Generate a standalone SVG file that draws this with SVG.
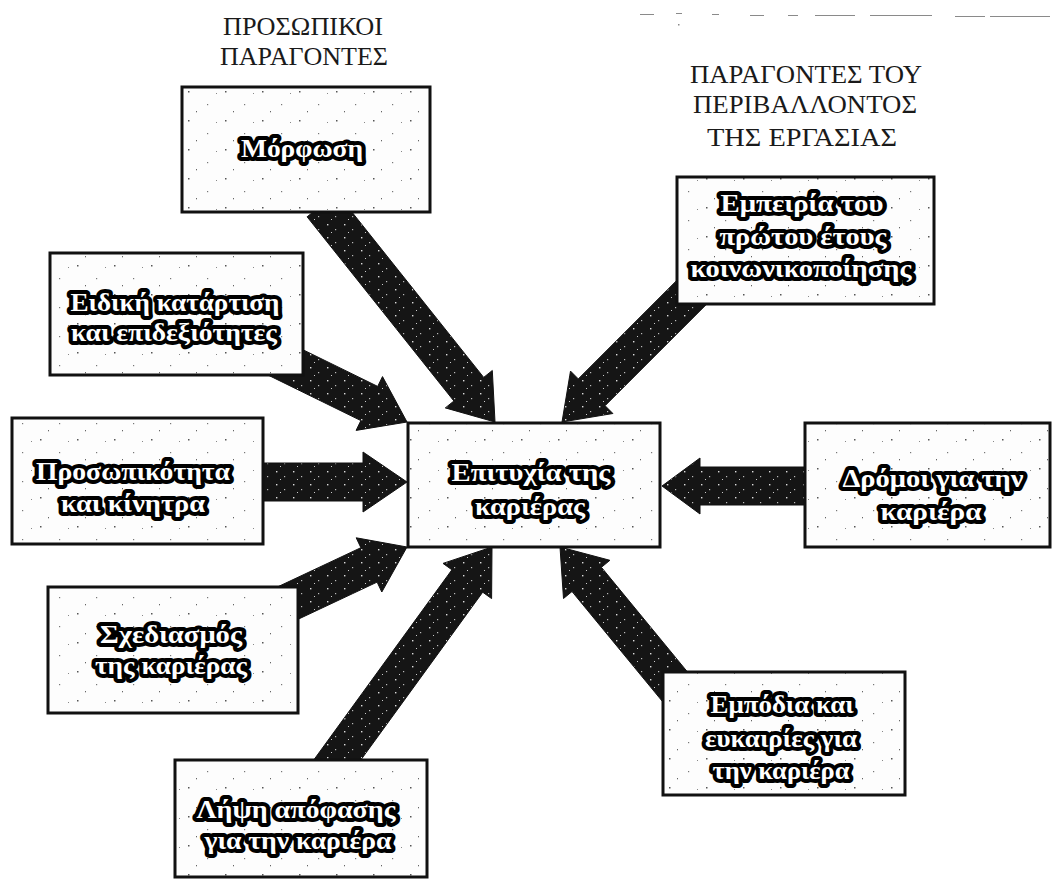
<svg xmlns="http://www.w3.org/2000/svg" width="1052" height="881" viewBox="0 0 1052 881">
<style>
.box{stroke:#111;stroke-width:3;fill:url(#spkL)}
.arr{fill:url(#spkD);stroke:#111;stroke-width:1}
.t{font-family:"Liberation Serif","DejaVu Serif",serif;font-weight:bold;font-size:26px;fill:#fff;stroke:#000;stroke-width:8;stroke-linejoin:round;paint-order:stroke;text-anchor:middle}
.h{font-family:"Liberation Serif","DejaVu Serif",serif;font-size:25px;fill:#1a1a1a;text-anchor:middle}
.scan{fill:#8a8a8a}
</style>
<defs>
<pattern id="spkL" patternUnits="userSpaceOnUse" width="37" height="29">
<rect width="37" height="29" fill="#fdfdfd"/>
<rect x="3" y="4" width="1.5" height="1.5" fill="#555"/>
<rect x="22" y="17" width="1.2" height="1.2" fill="#777"/>
<rect x="31" y="6" width="1" height="1" fill="#888"/>
<rect x="11" y="24" width="1" height="1.3" fill="#666"/>
</pattern>
<pattern id="spkD" patternUnits="userSpaceOnUse" width="17" height="13">
<rect width="17" height="13" fill="#151515"/>
<rect x="4" y="3" width="1.4" height="1.4" fill="#ddd"/>
<rect x="12" y="8" width="1.2" height="1.2" fill="#bbb"/>
<rect x="8" y="11" width="1" height="1" fill="#ccc"/>
</pattern>
</defs>
<rect width="1052" height="881" fill="#fff"/>

<g id="scan-marks">
<rect class="scan" x="640" y="14" width="14" height="1"/>
<rect class="scan" x="676" y="13" width="6" height="1"/>
<rect class="scan" x="712" y="14" width="7" height="1"/>
<rect class="scan" x="750" y="15" width="14" height="1"/>
<rect class="scan" x="788" y="15" width="10" height="1"/>
<rect class="scan" x="815" y="15" width="40" height="1"/>
<rect class="scan" x="870" y="15" width="62" height="1"/>
<rect class="scan" x="955" y="16" width="30" height="1"/>
<rect class="scan" x="990" y="16" width="60" height="1"/>
<rect class="scan" x="678" y="24" width="1.5" height="1.5"/>
</g>

<g id="headers">
<text class="h" x="303" y="35" textLength="160" lengthAdjust="spacingAndGlyphs">ΠΡΟΣΩΠΙΚΟΙ</text>
<text class="h" x="304" y="65" textLength="168" lengthAdjust="spacingAndGlyphs">ΠΑΡΑΓΟΝΤΕΣ</text>
<text class="h" x="806" y="83" textLength="232" lengthAdjust="spacingAndGlyphs">ΠΑΡΑΓΟΝΤΕΣ ΤΟΥ</text>
<text class="h" x="805" y="113" textLength="224" lengthAdjust="spacingAndGlyphs">ΠΕΡΙΒΑΛΛΟΝΤΟΣ</text>
<text class="h" x="802" y="146" textLength="190" lengthAdjust="spacingAndGlyphs">ΤΗΣ ΕΡΓΑΣΙΑΣ</text>
</g>

<g id="connectors">
<polygon class="arr" points="307.1,216.8 453.9,401.0 445.3,407.9 495,422 492.3,370.5 483.7,377.4 336.9,193.2"/>
<polygon class="arr" points="706.6,250.6 578.3,378.9 570.5,371.1 562,422 612.9,413.5 605.1,405.7 733.4,277.4"/>
<polygon class="arr" points="241.6,362.1 360.9,420.6 356.1,430.4 407,422 382.5,376.6 377.7,386.4 258.4,327.9"/>
<polygon class="arr" points="250,463 363,463 363,452 407,482 363,512 363,501 250,501"/>
<polygon class="arr" points="279.1,628.2 377.1,582.1 381.8,592.0 407,547 356.2,537.8 360.9,547.7 262.9,593.8"/>
<polygon class="arr" points="336.6,793.3 482.7,592.2 491.6,598.6 492,547 443.0,563.4 451.9,569.8 305.8,770.9"/>
<polygon class="arr" points="704.7,692.9 601.4,567.3 609.9,560.3 560,547 563.5,598.5 572.0,591.5 675.3,717.1"/>
<polygon class="arr" points="820,467 700,467 700,458 662,486 700,514 700,505 820,505"/>
</g>

<g id="n-morfosi">
<rect class="box" x="182" y="87" width="248" height="125"/>
<text class="t" x="302" y="157" textLength="122" lengthAdjust="spacingAndGlyphs">Μόρφωση</text>
</g>

<g id="n-empeiria">
<rect class="box" x="677" y="177" width="257" height="127"/>
<text class="t" x="802" y="212" textLength="163" lengthAdjust="spacingAndGlyphs">Εμπειρία του</text>
<text class="t" x="803" y="245" textLength="167" lengthAdjust="spacingAndGlyphs">πρώτου έτους</text>
<text class="t" x="801" y="277" textLength="221" lengthAdjust="spacingAndGlyphs">κοινωνικοποίησης</text>
</g>

<g id="n-eidiki">
<rect class="box" x="50" y="253" width="253" height="122"/>
<text class="t" x="175" y="311" textLength="209" lengthAdjust="spacingAndGlyphs">Ειδική κατάρτιση</text>
<text class="t" x="174" y="341" textLength="206" lengthAdjust="spacingAndGlyphs">και επιδεξιότητες</text>
</g>

<g id="n-prosopikotita">
<rect class="box" x="12" y="418" width="251" height="126"/>
<text class="t" x="133" y="480" textLength="194" lengthAdjust="spacingAndGlyphs">Προσωπικότητα</text>
<text class="t" x="133" y="512" textLength="144" lengthAdjust="spacingAndGlyphs">και κίνητρα</text>
</g>

<g id="n-epitychia">
<rect class="box" x="408" y="423" width="252" height="124"/>
<text class="t" x="531" y="481" textLength="159" lengthAdjust="spacingAndGlyphs">Επιτυχία της</text>
<text class="t" x="530" y="515" textLength="110" lengthAdjust="spacingAndGlyphs">καριέρας</text>
</g>

<g id="n-dromoi">
<rect class="box" x="805" y="423" width="245" height="124"/>
<text class="t" x="933" y="487" textLength="181" lengthAdjust="spacingAndGlyphs">Δρόμοι για την</text>
<text class="t" x="931" y="520" textLength="101" lengthAdjust="spacingAndGlyphs">καριέρα</text>
</g>

<g id="n-sxediasmos">
<rect class="box" x="48" y="587" width="250" height="126"/>
<text class="t" x="171" y="643" textLength="142" lengthAdjust="spacingAndGlyphs">Σχεδιασμός</text>
<text class="t" x="171" y="674" textLength="152" lengthAdjust="spacingAndGlyphs">της καριέρας</text>
</g>

<g id="n-lipsi">
<rect class="box" x="175" y="760" width="252" height="117"/>
<text class="t" x="296" y="818" textLength="199" lengthAdjust="spacingAndGlyphs">Λήψη απόφασης</text>
<text class="t" x="298" y="849" textLength="187" lengthAdjust="spacingAndGlyphs">για την καριέρα</text>
</g>

<g id="n-empodia">
<rect class="box" x="663" y="672" width="242" height="123"/>
<text class="t" x="782" y="713" textLength="143" lengthAdjust="spacingAndGlyphs">Εμπόδια και</text>
<text class="t" x="781" y="747" textLength="152" lengthAdjust="spacingAndGlyphs">ευκαιρίες για</text>
<text class="t" x="781" y="779" textLength="137" lengthAdjust="spacingAndGlyphs">την καριέρα</text>
</g>
</svg>
